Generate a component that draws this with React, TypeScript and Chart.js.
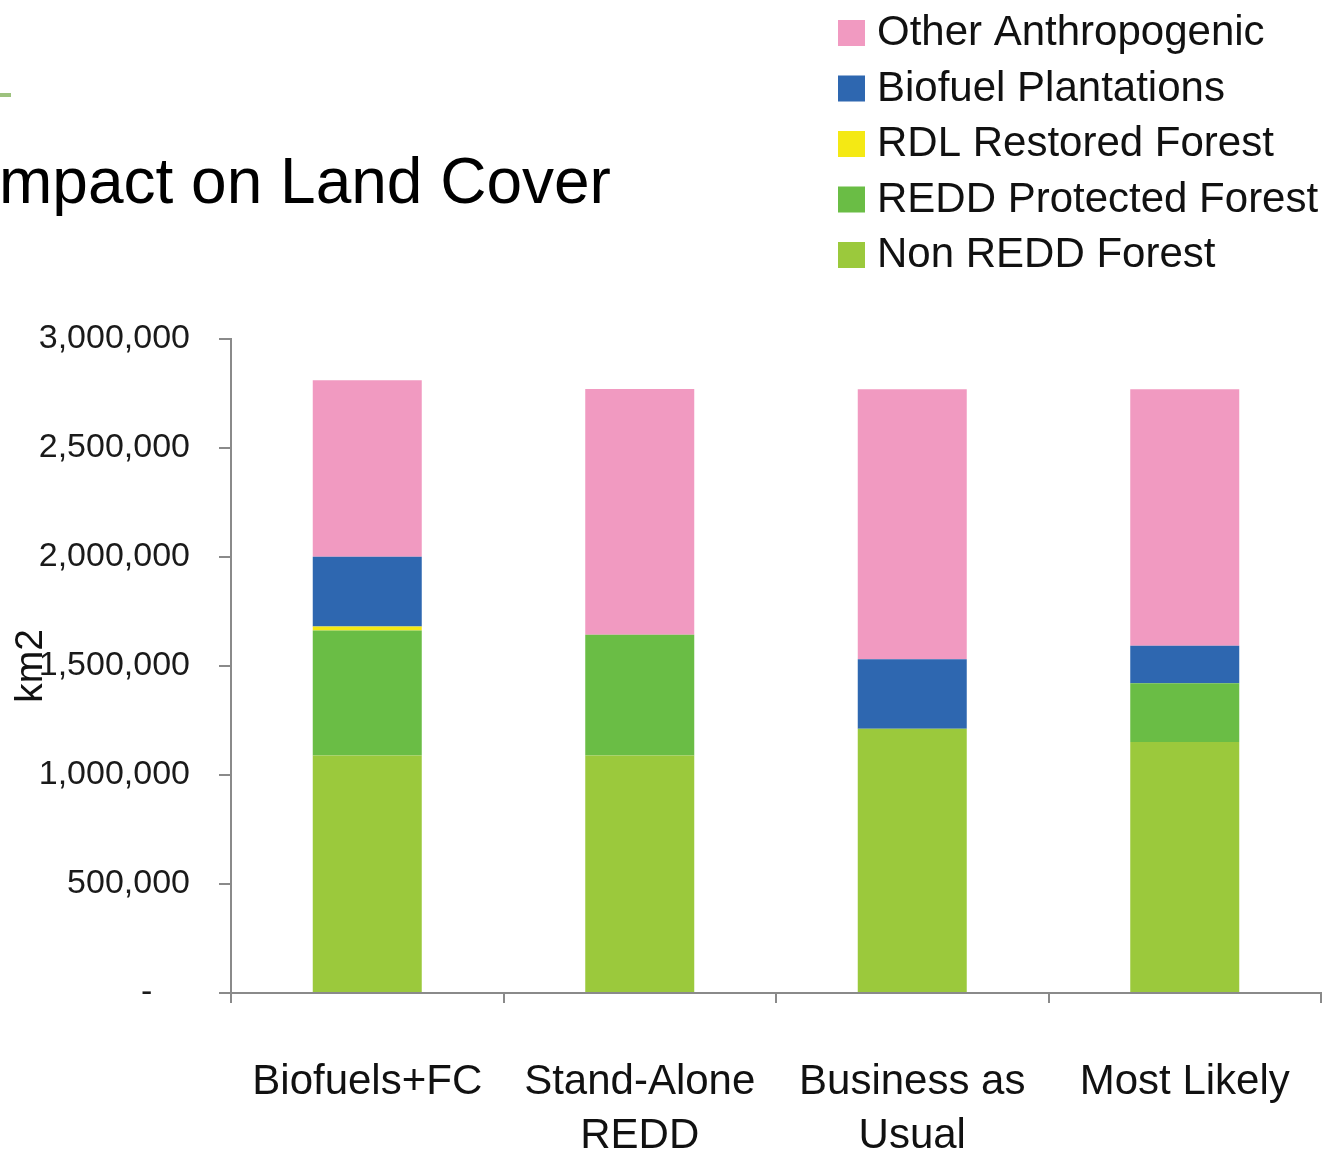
import React, { useEffect, useRef } from "react";
import { Chart, registerables } from "chart.js";

Chart.register(...registerables);

// Scenarios along the x axis (multi-line labels as arrays)
const categories: (string | string[])[] = [
  "Biofuels+FC",
  ["Stand-Alone", "REDD"],
  ["Business as", "Usual"],
  "Most Likely",
];

// Land cover by class, km2 (stacked bottom to top)
const nonReddForest = [1090000, 1090000, 1212000, 1151000];
const reddProtectedForest = [573000, 553000, 0, 270000];
const rdlRestoredForest = [18000, 0, 0, 0];
const biofuelPlantations = [320000, 0, 319000, 172000];
const otherAnthropogenic = [810000, 1128000, 1239000, 1177000];

const seriesNames = [
  "Non REDD Forest",
  "REDD Protected Forest",
  "RDL Restored Forest",
  "Biofuel Plantations",
  "Other Anthropogenic",
];
const seriesColors = ["#9BC93C", "#6ABD45", "#F4E914", "#2E67B0", "#F19AC1"];

const yMax = 3000000;
const yStep = 500000;
const yTitle = "km2";
const pageTitle = "mpact on Land Cover";

const FONT = '"Liberation Sans", Arial, Helvetica, sans-serif';

// Draws the slide heading, the accent rule and the stacked legend
const slideDecor = {
  id: "slideDecor",
  afterDraw(chart: Chart) {
    const ctx = chart.ctx;
    ctx.save();

    // green accent rule at the top-left edge
    ctx.fillStyle = "#9DC27E";
    ctx.fillRect(0, 93, 11, 4);

    // heading
    ctx.fillStyle = "#000";
    ctx.font = `64px ${FONT}`;
    ctx.textAlign = "left";
    ctx.textBaseline = "alphabetic";
    ctx.fillText(pageTitle, -1, 203);

    // legend, listed from the top of the stack downwards
    const ds = chart.data.datasets.slice().reverse();
    ctx.font = `42px ${FONT}`;
    ds.forEach((d, i) => {
      const top = 20 + i * 55.5;
      ctx.fillStyle = d.backgroundColor as string;
      ctx.fillRect(838, top, 27, 26);
      ctx.fillStyle = "#111";
      ctx.fillText(d.label as string, 877, top + 25);
    });
    ctx.restore();
  },
};

export default function App() {
  const ref = useRef<HTMLCanvasElement | null>(null);

  useEffect(() => {
    document.body.style.margin = "0";
    const canvas = ref.current;
    if (!canvas) return;

    const datasets = [
      nonReddForest,
      reddProtectedForest,
      rdlRestoredForest,
      biofuelPlantations,
      otherAnthropogenic,
    ].map((values, i) => ({
      label: seriesNames[i],
      data: values,
      backgroundColor: seriesColors[i],
      borderWidth: 0,
      barPercentage: 0.4,
      categoryPercentage: 1,
    }));

    const chart = new Chart(canvas, {
      type: "bar",
      data: { labels: categories, datasets },
      plugins: [slideDecor],
      options: {
        animation: false,
        responsive: false,
        devicePixelRatio: 1,
        layout: { padding: { top: 339, right: 7, bottom: 0, left: 0 } },
        plugins: {
          legend: { display: false },
          tooltip: { enabled: false },
        },
        scales: {
          x: {
            stacked: true,
            grid: {
              offset: true,
              drawOnChartArea: false,
              drawTicks: true,
              tickLength: 10,
              color: "#8a8a8a",
              lineWidth: 2,
            },
            border: { display: true, color: "#8a8a8a", width: 2 },
            ticks: {
              color: "#111",
              padding: 52,
              maxRotation: 0,
              autoSkip: false,
              font: { family: FONT, size: 42, lineHeight: 1.29 },
            },
            afterFit(scale: any) {
              scale.height = 159;
              scale.paddingLeft = 0;
              scale.paddingRight = 0;
            },
          },
          y: {
            stacked: true,
            min: 0,
            max: yMax,
            grid: {
              drawOnChartArea: false,
              drawTicks: true,
              tickLength: 12,
              color: "#8a8a8a",
              lineWidth: 2,
            },
            border: { display: true, color: "#8a8a8a", width: 2 },
            ticks: {
              stepSize: yStep,
              padding: 29,
              color: "#1a1a1a",
              font: { family: FONT, size: 34 },
              callback: (v: any) =>
                Number(v) === 0 ? "-    " : Number(v).toLocaleString("en-US"),
            },
            title: {
              display: true,
              text: yTitle,
              color: "#111",
              font: { family: FONT, size: 39 },
              padding: { top: 8, bottom: 0 },
            },
            afterFit(scale: any) {
              scale.width = 231;
            },
          },
        },
      },
    });

    return () => chart.destroy();
  }, []);

  return (
    <div style={{ position: "absolute", left: 0, top: 0, width: 1328, height: 1152, background: "#fff" }}>
      <canvas ref={ref} width={1328} height={1152} style={{ display: "block" }} />
    </div>
  );
}
